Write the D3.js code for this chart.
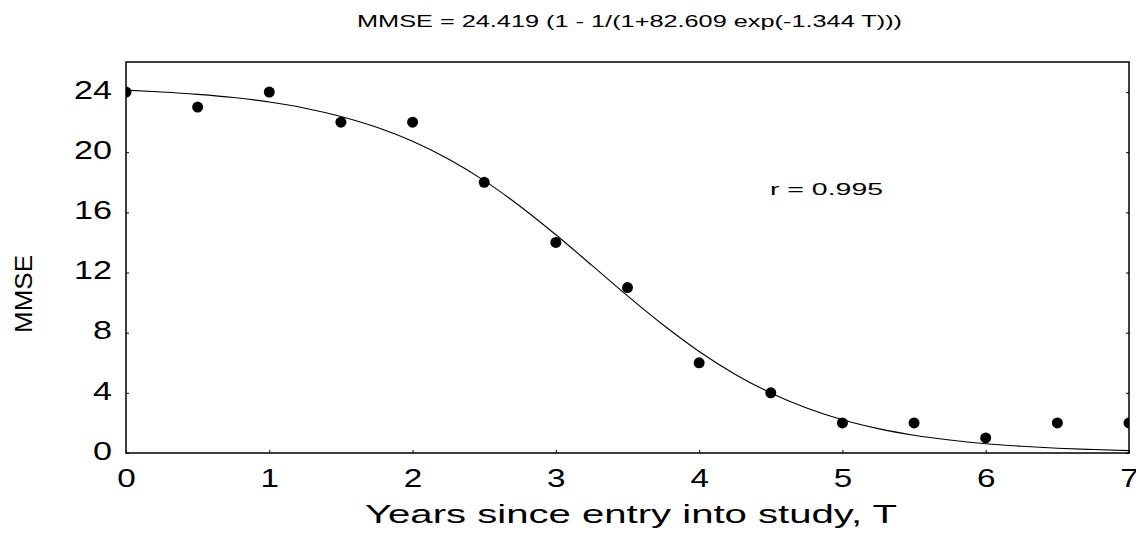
<!DOCTYPE html>
<html>
<head>
<meta charset="utf-8">
<script src="https://cdn.jsdelivr.net/npm/d3@7"></script>
<style>
  body { margin: 0; background: #fff; }
  text { font-family: "Liberation Sans", Arial, sans-serif; fill: #000; }
</style>
</head>
<body>
<div id="chart"></div>
<script>
// observed MMSE scores
var years = [0, 0.5, 1, 1.5, 2, 2.5, 3, 3.5, 4, 4.5, 5, 5.5, 6, 6.5, 7];
var mmse = [24, 23, 24, 22, 22, 18, 14, 11, 6, 4, 2, 2, 1, 2, 2];

// fitted curve, read at quarter-year steps
var fitYears = [0, 0.25, 0.5, 0.75, 1, 1.25, 1.5, 1.75, 2, 2.25, 2.5, 2.75, 3, 3.25, 3.5,
  3.75, 4, 4.25, 4.5, 4.75, 5, 5.25, 5.5, 5.75, 6, 6.25, 6.5, 6.75, 7];
var fitMmse = [24.13, 24.01, 23.85, 23.64, 23.34, 22.93, 22.38, 21.66, 20.73, 19.55, 18.11,
  16.41, 14.51, 12.49, 10.45, 8.51, 6.75, 5.24, 3.99, 2.99, 2.21, 1.62, 1.18, 0.86, 0.62,
  0.45, 0.32, 0.23, 0.16];

var xTicks = [0, 1, 2, 3, 4, 5, 6, 7];
var yTicks = [0, 4, 8, 12, 16, 20, 24];

var width = 1136, height = 536;
var margin = { top: 62, right: 7, bottom: 83, left: 126 };
var innerW = width - margin.left - margin.right;
var innerH = height - margin.top - margin.bottom;

var svg = d3.select("#chart").append("svg")
  .attr("width", width)
  .attr("height", height);

var g = svg.append("g")
  .attr("transform", "translate(" + margin.left + "," + margin.top + ")");

var x = d3.scaleLinear().domain([0, 7]).range([0, innerW]);
var y = d3.scaleLinear().domain([0, 26]).range([innerH, 0]);

g.append("clipPath").attr("id", "plotclip")
  .append("rect").attr("width", innerW).attr("height", innerH);

// the scanned lettering is wide, so stretch labels to the measured widths
function stretch(sel, perChar) {
  sel.attr("textLength", function (d) { return String(d).length * perChar; })
    .attr("lengthAdjust", "spacingAndGlyphs");
}

// axes with small inward ticks
var xAxis = g.append("g")
  .attr("transform", "translate(0," + innerH + ")")
  .call(d3.axisBottom(x).tickValues(xTicks).tickSize(-3).tickPadding(0).tickFormat(d3.format("d")));
xAxis.select(".domain").remove();
xAxis.selectAll("text").attr("font-size", "25px").attr("dy", null).attr("y", 34).call(stretch, 18.5);

var yAxis = g.append("g")
  .call(d3.axisLeft(y).tickValues(yTicks).tickSize(-3).tickPadding(14).tickFormat(d3.format("d")));
yAxis.select(".domain").remove();
yAxis.selectAll("text").attr("font-size", "25px").attr("dy", "0.25em").call(stretch, 19);

// mirrored ticks on the right edge
var yRight = g.append("g")
  .attr("transform", "translate(" + innerW + ",0)")
  .call(d3.axisRight(y).tickValues(yTicks).tickSize(-3).tickFormat(""));
yRight.select(".domain").remove();

// frame
g.append("rect")
  .attr("width", innerW)
  .attr("height", innerH)
  .attr("fill", "none")
  .attr("stroke", "#000")
  .attr("stroke-width", 1.5);

var plot = g.append("g").attr("clip-path", "url(#plotclip)");

var line = d3.line()
  .x(function (d, i) { return x(fitYears[i]); })
  .y(function (d) { return y(d); })
  .curve(d3.curveMonotoneX);

plot.append("path")
  .datum(fitMmse)
  .attr("d", line)
  .attr("fill", "none")
  .attr("stroke", "#000")
  .attr("stroke-width", 1.1);

plot.selectAll("circle")
  .data(mmse)
  .join("circle")
  .attr("cx", function (d, i) { return x(years[i]); })
  .attr("cy", function (d) { return y(d); })
  .attr("r", 5.5)
  .attr("fill", "#000");

// labels
svg.append("text")
  .attr("x", 357).attr("y", 27)
  .attr("font-size", "17px")
  .attr("textLength", 545).attr("lengthAdjust", "spacingAndGlyphs")
  .text("MMSE = 24.419 (1 - 1/(1+82.609 exp(-1.344 T)))");

svg.append("text")
  .attr("x", 770).attr("y", 195)
  .attr("font-size", "17px")
  .attr("textLength", 113).attr("lengthAdjust", "spacingAndGlyphs")
  .text("r = 0.995");

svg.append("text")
  .attr("x", 365).attr("y", 523)
  .attr("font-size", "25px")
  .attr("textLength", 532).attr("lengthAdjust", "spacingAndGlyphs")
  .text("Years since entry into study, T");

svg.append("text")
  .attr("transform", "translate(32,294) rotate(-90)")
  .attr("text-anchor", "middle")
  .attr("font-size", "23px")
  .attr("textLength", 78).attr("lengthAdjust", "spacingAndGlyphs")
  .text("MMSE");
</script>
</body>
</html>
